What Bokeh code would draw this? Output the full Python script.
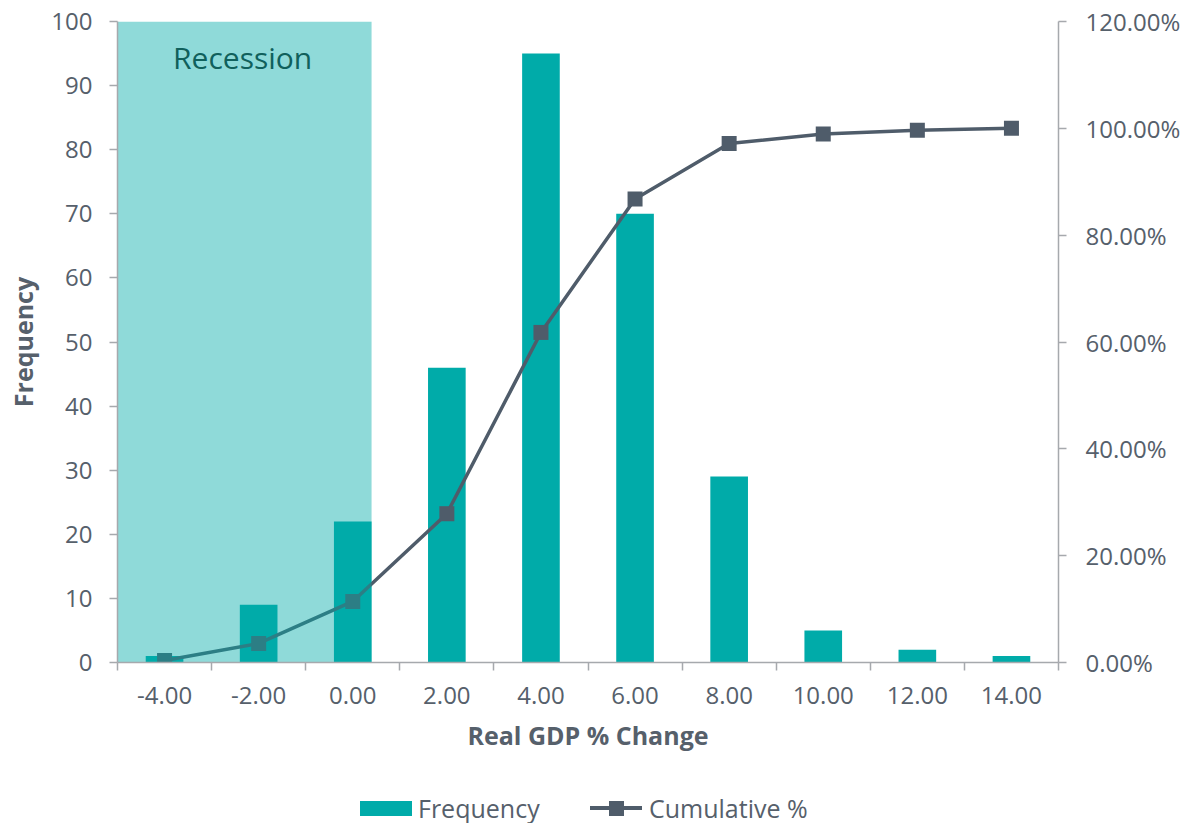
import numpy as np
from bokeh.plotting import figure
from bokeh.layouts import column
from bokeh.models import Range1d, LinearAxis, FixedTicker, PrintfTickFormatter, Div
from bokeh.core.properties import value
from bokeh.embed import file_html
from bokeh.resources import INLINE

# Histogram of real GDP % change with cumulative share
bins = ["-4.00", "-2.00", "0.00", "2.00", "4.00", "6.00", "8.00", "10.00", "12.00", "14.00"]
frequency = [1, 9, 22, 46, 95, 70, 29, 5, 2, 1]
cumulative_pct = [0.36, 3.57, 11.43, 27.86, 61.79, 86.79, 97.14, 98.93, 99.64, 100.00]
recession_last_bin = "0.00"
series_names = ["Frequency", "Cumulative %"]

FONT = "Open Sans"
TEXT = "#56606B"
AXIS = "#A6A9AD"
TEAL = "#00ABA9"
SLATE = "#4F5C6A"
BAR_W = 0.4

centers = np.arange(len(bins)) + 0.5

p = figure(width=1188, height=770, output_backend="svg", toolbar_location=None,
           x_range=Range1d(0, len(bins)), y_range=Range1d(0, 100),
           min_border_left=117, min_border_right=130, min_border_top=21,
           min_border_bottom=108)
p.outline_line_color = None
p.grid.visible = False
p.background_fill_color = "white"
p.border_fill_color = "white"

p.extra_y_ranges = {"pct": Range1d(0, 120)}

p.vbar(x=centers, top=frequency, width=BAR_W, fill_color=TEAL, line_color=None)
p.line(x=centers, y=cumulative_pct, y_range_name="pct", line_color=SLATE, line_width=3.5)
p.scatter(x=centers, y=cumulative_pct, y_range_name="pct", marker="square",
          size=15, fill_color=SLATE, line_color=None)

# translucent recession band over the bins up to and including 0.00
rec_right = bins.index(recession_last_bin) + 0.5 + BAR_W / 2
p.quad(left=[0], right=[rec_right], bottom=[0], top=[100],
       fill_color=TEAL, fill_alpha=0.44, line_color=None)
p.text(x=[1.33], y=[94.4], text=["Recession"], text_align="center", text_baseline="middle",
       text_font=value(FONT), text_font_size="30px", text_color="#10605C")

# bottom axis: labels at bin centres, tick marks at bin edges
xa = p.xaxis[0]
xa.ticker = FixedTicker(ticks=list(centers), minor_ticks=list(range(len(bins) + 1)))
xa.major_label_overrides = {float(c): b for c, b in zip(centers, bins)}
xa.major_tick_out = 0
xa.major_tick_in = 0
xa.minor_tick_out = 8
xa.minor_tick_in = 0
xa.minor_tick_line_color = AXIS
xa.minor_tick_line_width = 1.5
xa.major_label_standoff = 16
xa.axis_label = "Real GDP % Change"
xa.axis_label_standoff = 11

ya = p.yaxis[0]
ya.ticker = FixedTicker(ticks=list(range(0, 101, 10)))
ya.major_tick_out = 8
ya.major_tick_in = 0
ya.minor_tick_line_color = None
ya.major_label_standoff = 17
ya.axis_label = "Frequency"
ya.axis_label_standoff = 8

ra = LinearAxis(y_range_name="pct", ticker=FixedTicker(ticks=list(range(0, 121, 20))),
                formatter=PrintfTickFormatter(format="%.2f%%"))
ra.major_tick_out = 8
ra.major_tick_in = 0
ra.minor_tick_line_color = None
ra.major_label_standoff = 19
p.add_layout(ra, "right")

for ax in (xa, ya, ra):
    ax.axis_line_color = AXIS
    ax.axis_line_width = 1.5
    ax.major_tick_line_color = AXIS
    ax.major_tick_line_width = 1.5
    ax.major_label_text_font = FONT
    ax.major_label_text_font_size = "24px"
    ax.major_label_text_color = TEXT
    ax.axis_label_text_font = FONT
    ax.axis_label_text_font_size = "25px"
    ax.axis_label_text_font_style = "bold"
    ax.axis_label_text_color = TEXT

# legend strip under the chart
legend_html = f"""
<div style="position:relative;width:1188px;height:53px;font-family:'{FONT}';
            font-size:25px;color:{TEXT};">
  <span style="position:absolute;left:360px;top:31px;width:52px;height:15px;
               background:{TEAL};"></span>
  <span style="position:absolute;left:418px;top:21px;line-height:34px;
               white-space:nowrap;">{series_names[0]}</span>
  <span style="position:absolute;left:590px;top:36px;width:52px;height:4px;
               background:{SLATE};"></span>
  <span style="position:absolute;left:609px;top:31px;width:15px;height:15px;
               background:{SLATE};"></span>
  <span style="position:absolute;left:649px;top:21px;line-height:34px;
               white-space:nowrap;">{series_names[1]}</span>
</div>
"""
lg = Div(text=legend_html, width=1188, height=53, margin=0)

layout = column(p, lg, spacing=0)
open("out.html", "w").write(file_html(layout, INLINE))
